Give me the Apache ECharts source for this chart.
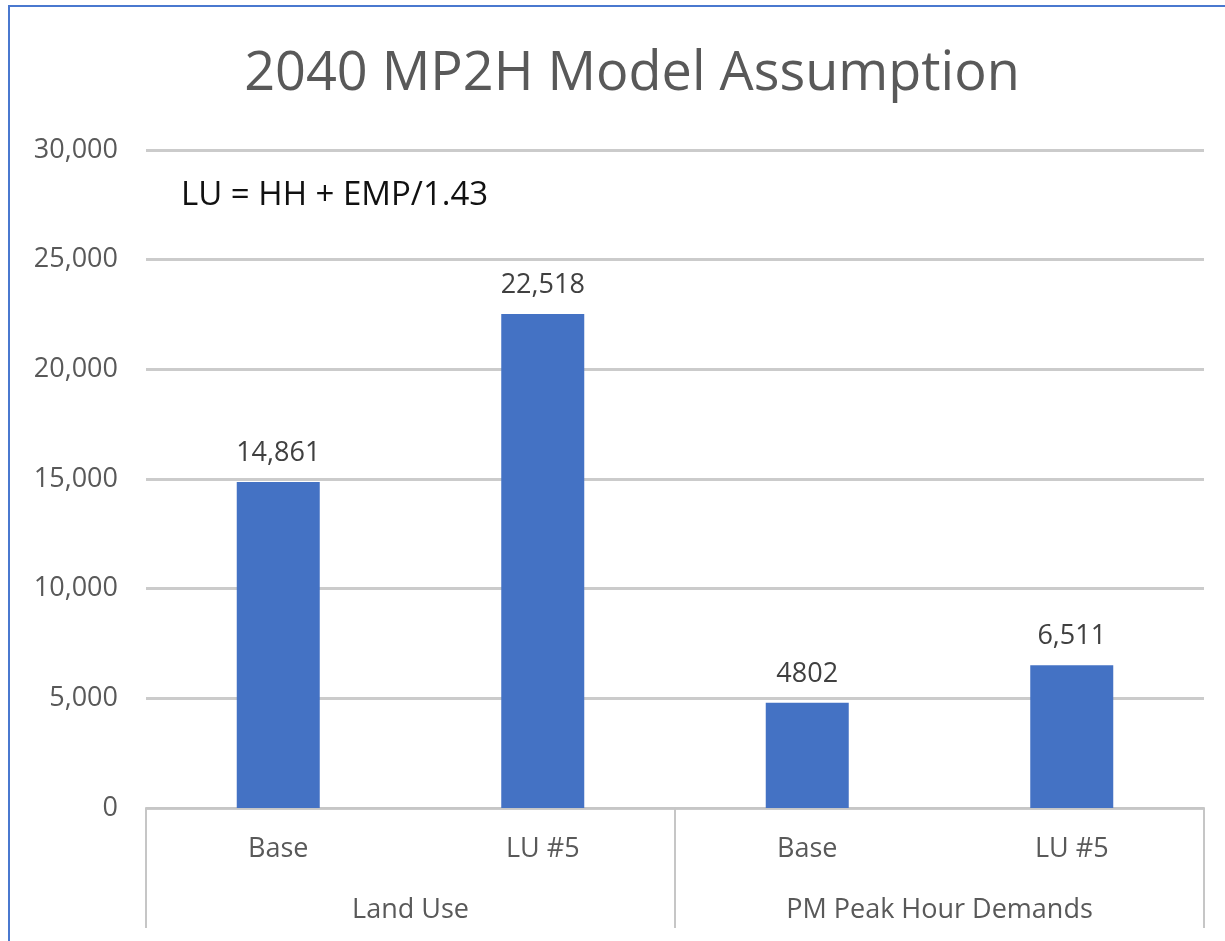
<!DOCTYPE html>
<html>
<head>
<meta charset="utf-8">
<title>2040 MP2H Model Assumption</title>
<script src="https://cdn.jsdelivr.net/npm/echarts@6/dist/echarts.min.js"></script>
<style>
  html, body { margin: 0; padding: 0; background: #ffffff; }
  #chart { width: 1225px; height: 941px; }
</style>
</head>
<body>
<div id="chart"></div>
<script>
// Chart content
const chartTitle = '2040 MP2H Model Assumption';
const formulaNote = 'LU = HH + EMP/1.43';
const categories = ['Base', 'LU #5', 'Base', 'LU #5'];
const groups = ['Land Use', 'PM Peak Hour Demands'];
const values = [14861, 22518, 4802, 6511];
const valueLabels = ['14,861', '22,518', '4802', '6,511'];
const yMin = 0;
const yMax = 30000;
const yStep = 5000;

const FONT = '"Open Sans", "Noto Sans", sans-serif';
const GRID_COLOR = '#cbcbcb';
const TEXT_GRAY = '#595959';

const chart = echarts.init(document.getElementById('chart'), null, { renderer: 'canvas' });

chart.setOption({
  backgroundColor: '#ffffff',
  animation: false,
  textStyle: { fontFamily: FONT },
  title: {
    text: chartTitle,
    left: 627,
    textAlign: 'center',
    top: 43,
    textStyle: { fontFamily: FONT, fontSize: 54, fontWeight: 'normal', color: TEXT_GRAY }
  },
  graphic: [
    {
      type: 'rect',
      z: -1,
      silent: true,
      shape: { x: 9, y: 6, width: 1400, height: 1100 },
      style: { fill: 'none', stroke: '#4a78cf', lineWidth: 2 }
    },
    {
      type: 'text',
      left: 181,
      top: 179,
      style: { text: formulaNote, fontFamily: FONT, fontSize: 33, fill: '#111111' }
    }
  ],
  grid: { left: 146, right: 21, top: 150, bottom: 133, containLabel: false },
  xAxis: [
    {
      type: 'category',
      data: categories,
      position: 'bottom',
      axisLine: { show: true, lineStyle: { color: '#c6c6c6', width: 2 } },
      axisTick: { show: false },
      axisLabel: { margin: 28, fontSize: 27, color: TEXT_GRAY, fontFamily: FONT }
    },
    {
      type: 'category',
      data: groups,
      position: 'bottom',
      axisLine: { show: false },
      axisTick: { show: true, length: 120, lineStyle: { color: '#c6c6c6', width: 2 } },
      axisLabel: { margin: 89, fontSize: 27, color: TEXT_GRAY, fontFamily: FONT }
    }
  ],
  yAxis: {
    type: 'value',
    min: yMin,
    max: yMax,
    interval: yStep,
    axisLine: { show: false },
    axisTick: { show: false },
    splitLine: { show: true, lineStyle: { color: GRID_COLOR, width: 3 } },
    axisLabel: {
      margin: 28,
      fontSize: 27,
      color: TEXT_GRAY,
      fontFamily: FONT,
      formatter: v => v.toLocaleString('en-US')
    }
  },
  series: [
    {
      type: 'bar',
      xAxisIndex: 0,
      data: values,
      barWidth: 83,
      itemStyle: { color: '#4472C4' },
      label: {
        show: true,
        position: 'top',
        distance: 15,
        fontSize: 27,
        color: '#404040',
        fontFamily: FONT,
        formatter: p => valueLabels[p.dataIndex]
      }
    }
  ]
});
</script>
</body>
</html>
